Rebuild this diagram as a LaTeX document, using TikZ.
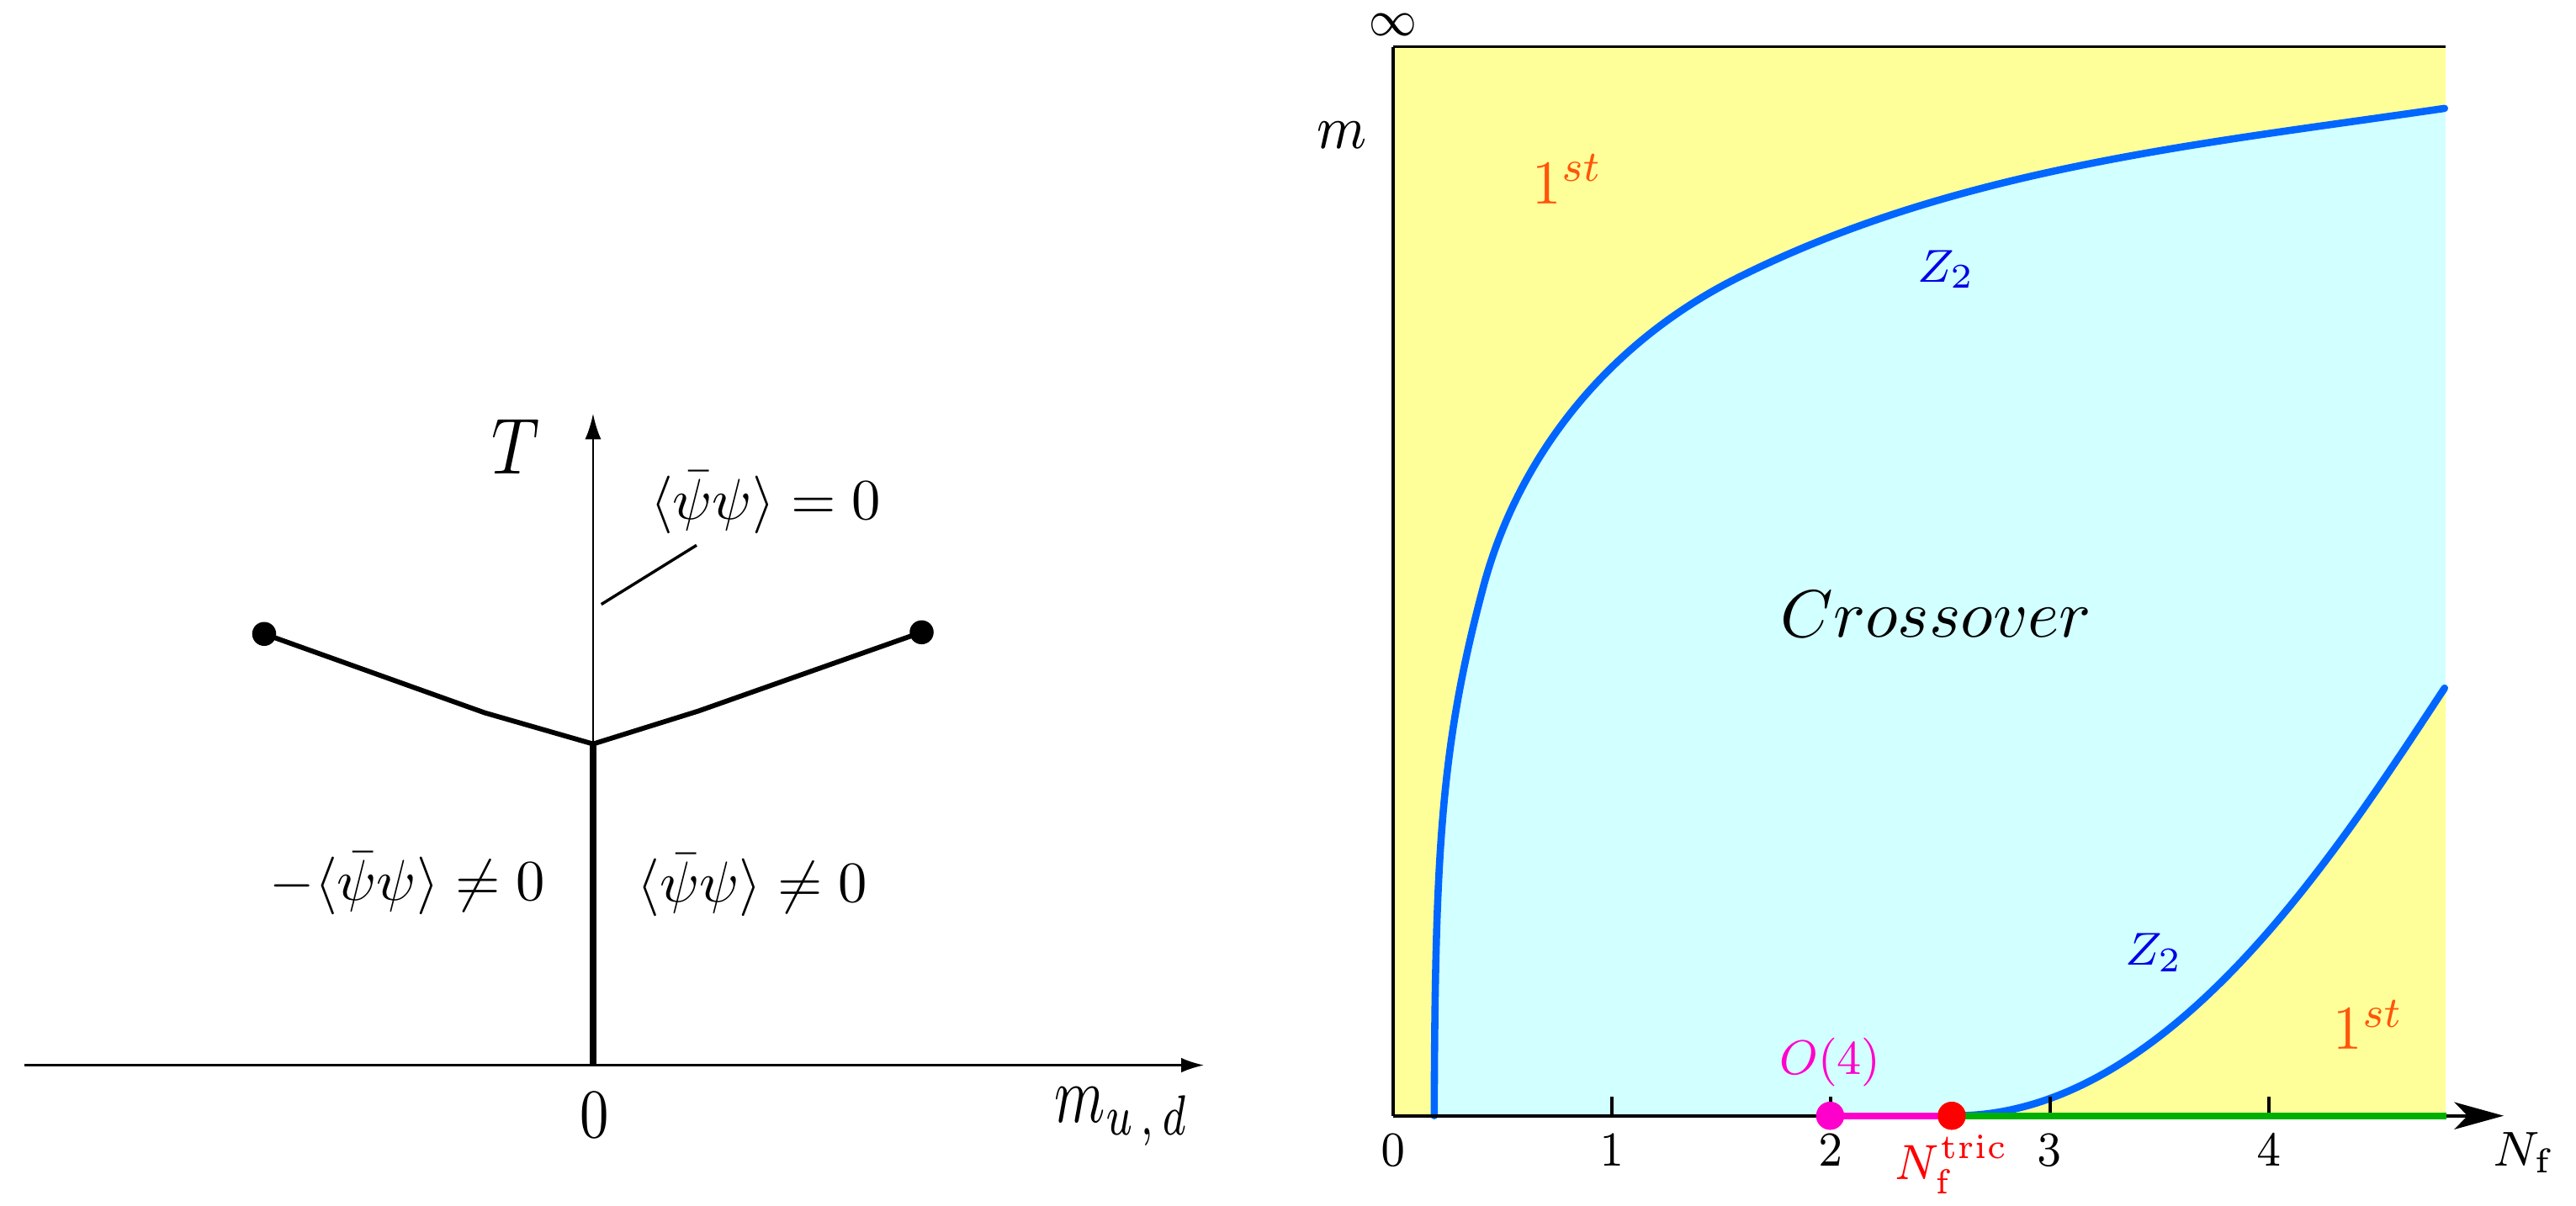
\RequirePackage{fix-cm}
\documentclass[tikz,border=0pt]{standalone}
\usepackage{amsmath}
\usepackage{graphicx}
\usetikzlibrary{arrows.meta}
\definecolor{yelfill}{RGB}{255,255,153}
\definecolor{cyanfill}{RGB}{210,255,255}
\definecolor{curveblue}{RGB}{0,102,255}
\definecolor{ztxt}{RGB}{0,0,230}
\definecolor{firsttxt}{RGB}{255,85,10}
\definecolor{omag}{RGB}{255,0,204}
\definecolor{tricred}{RGB}{255,0,0}
\definecolor{lngreen}{RGB}{0,176,0}
\newcommand{\ys}[2]{\scalebox{1}[#1]{#2}}
\newcommand{\fs}[1]{\fontsize{#1}{#1}\selectfont}
\begin{document}
\begin{tikzpicture}[x=0.01cm,y=-0.01cm,
  lbl/.style={inner sep=0pt, outer sep=0pt, anchor=center},
  thinax/.style={line width=0.42pt},
  branch/.style={line width=0.85pt, line join=round},
  bdot/.style={circle, fill=black, inner sep=0pt, minimum size=0.146cm},
  bluecurve/.style={curveblue, line width=1.25pt, line cap=round},
  pdot/.style={circle, inner sep=0pt, minimum size=0.17cm}]
\useasboundingbox (0,0) rectangle (1568,734);

% ---------------- left panel ----------------
\coordinate (hx0) at (15,648.6);
\coordinate (hx1) at (733,648.6);
\draw[thinax, -{Latex[length=0.14cm, width=0.09cm]}] (hx0) -- (hx1);
\coordinate (v0) at (361,648.6);
\coordinate (v1) at (361,251.8);
\draw[thinax, -{Latex[length=0.157cm, width=0.098cm]}] (v0) -- (v1);
\coordinate (j) at (361,453);
\draw[line width=1.05pt] (j) -- (v0);
\node[bdot] (dl) at (160.8,386) {};
\node[bdot] (dr) at (561,385) {};
\coordinate (kl) at (295,434);
\coordinate (kr) at (425,433);
\draw[branch] (dl.center) -- (kl) -- (j) -- (kr) -- (dr.center);
\coordinate (la) at (366,368);
\coordinate (lb) at (424,332);
\draw[line width=0.5pt] (la) -- (lb);

\node[lbl] (tlab) at (314,272) {\fs{11.5}\ys{1.2}{$T$}};
\node[lbl] (zero) at (466,306) {\fs{10}$\langle\bar\psi\psi\rangle = 0$};
\node[lbl] (nzl) at (248,538) {\fs{10}$-\langle\bar\psi\psi\rangle \neq 0$};
\node[lbl] (nzr) at (458,539) {\fs{10}$\langle\bar\psi\psi\rangle \neq 0$};
\node[lbl] (o0) at (362,679) {\fs{10}\ys{1.2}{$0$}};
\node[lbl] (mud) at (683,680) {\fs{10}\ys{1.4}{$m_{u\,,\,d}$}};

% ---------------- right panel ----------------
\fill[yelfill] (848,28.5) rectangle (1488.5,679.4);
\fill[cyanfill] (873,679.4) .. controls (873.5,520) and (877,454) .. (903,357)
  .. controls (923.8,279.4) and (977,209.5) .. (1058,169)
  .. controls (1192,102) and (1339.6,87.8) .. (1488,66)
  -- (1488.5,66) -- (1488.5,419) -- (1488,419)
  .. controls (1422,519.2) and (1320,679.4) .. (1190,679.4) -- cycle;
\draw[bluecurve] (873,679.4) .. controls (873.5,520) and (877,454) .. (903,357)
  .. controls (923.8,279.4) and (977,209.5) .. (1058,169)
  .. controls (1192,102) and (1339.6,87.8) .. (1488,66);
\draw[bluecurve] (1190,679.4) .. controls (1320,679.4) and (1422,519.2) .. (1488,419);

\coordinate (bl) at (848,679.4);
\coordinate (tl) at (848,28.5);
\coordinate (tr) at (1488.5,28.5);
\draw[line width=0.5pt] (tl) -- (tr);
\draw[line width=0.45pt] (bl) -- (tl);
\coordinate (ax1) at (1524,679.4);
\draw[line width=0.58pt, -{Stealth[length=0.30cm, width=0.165cm, inset=0.08cm]}] (bl) -- (ax1);
\foreach \k in {1,2,3,4} {
  \draw[line width=0.58pt] (848+133.25*\k,679.4) -- (848+133.25*\k,668);
}
\node[pdot, fill=omag] (o4) at (1114,679.4) {};
\node[pdot, fill=tricred] (nt) at (1188,679.4) {};
\coordinate (gend) at (1489,679.4);
\draw[lngreen, line width=1.15pt] (nt.center) -- (gend);
\draw[omag, line width=1.15pt] (o4.center) -- (nt.center);
\node[pdot, fill=omag] at (o4) {};
\node[pdot, fill=tricred] at (nt) {};

\foreach \k in {0,1,2,3,4} {
  \node[lbl] at (848+133.25*\k,700.5) {\fs{7.5}\ys{1.13}{$\k$}};
}
\node[lbl] (nflab) at (1536.5,702) {\fs{8.5}$N_{\mathrm{f}}$};
\node[lbl] (inf) at (848,15) {\fs{7.5}\ys{1.17}{$\infty$}};
\node[lbl] (mlab) at (816.6,82.3) {\fs{9.5}\ys{1.12}{$m$}};
\node[lbl, text=omag] (o4lab) at (1114,647) {\fs{8}\ys{1.05}{$O(4)$}};
\node[lbl, text=tricred] (ntlab) at (1188,709) {\fs{7.8}\ys{1.1}{$N_{\mathrm{f}}^{\mathrm{tric}}$}};
\node[lbl, text=ztxt] (z2a) at (1184.5,164) {\fs{8}$Z_2$};
\node[lbl, text=ztxt] (z2b) at (1311,580) {\fs{8}$Z_2$};
\node[lbl, text=firsttxt] (fa) at (954.5,109) {\fs{10}\ys{1.08}{$1^{st}$}};
\node[lbl, text=firsttxt] (fb) at (1442,624) {\fs{10}\ys{1.08}{$1^{st}$}};
\node[lbl] (cross) at (1178.5,374) {\fs{11.6}$Crossover$};
\end{tikzpicture}
\end{document}
